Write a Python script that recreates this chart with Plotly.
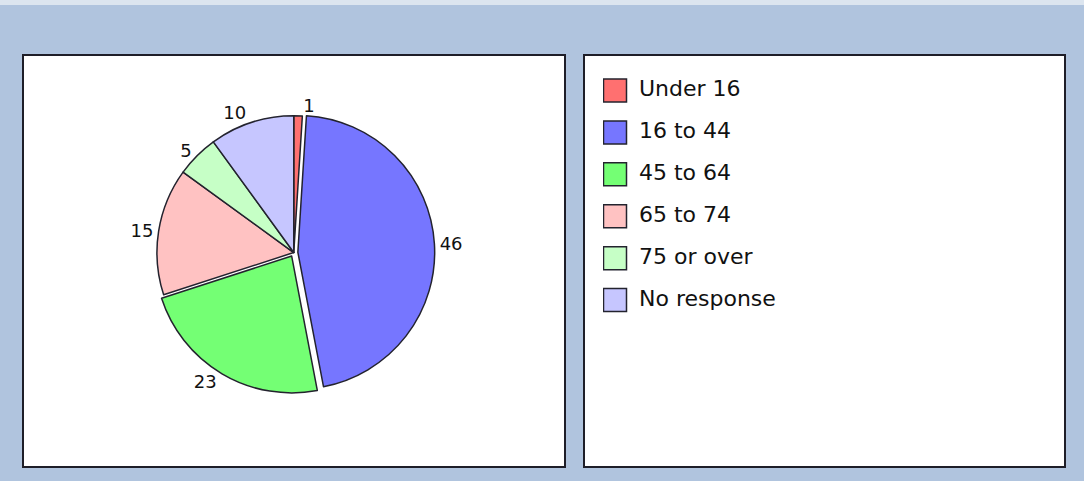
import plotly.graph_objects as go

labels = ["Under 16", "16 to 44", "45 to 64", "65 to 74", "75 or over", "No response"]
values = [1, 46, 23, 15, 5, 10]
colors = ["#FF7070", "#7676FF", "#74FF74", "#FFC2C2", "#C6FFC6", "#C6C6FF"]
explode = [0, 0.03, 0.03, 0, 0, 0]

W, H = 1084, 481
FONT = "DejaVu Sans"
OUTLINE = "#23232E"

def px_x(v):
    return v / W

def px_y(v):
    return 1 - v / H

fig = go.Figure()
fig.add_trace(go.Pie(
    labels=labels, values=values, sort=False, direction="clockwise", rotation=0,
    marker=dict(colors=colors, line=dict(color=OUTLINE, width=1.5)),
    pull=explode,
    textinfo="value", textposition="outside",
    textfont=dict(family=FONT, size=18, color="#111111"),
    domain=dict(x=[0.141, 0.401], y=[0.182, 0.768]),
    showlegend=False, hoverinfo="label+value",
))

# legend panel drawn as a categorical scatter in the right-hand box
idx = list(range(len(labels)))
fig.add_trace(go.Scatter(
    x=[0] * len(labels), y=idx, mode="markers",
    marker=dict(symbol="square", size=23, color=colors, line=dict(color=OUTLINE, width=1.5)),
    hoverinfo="skip", showlegend=False,
))
fig.add_trace(go.Scatter(
    x=[24] * len(labels), y=idx, mode="text", text=labels, textposition="middle right",
    textfont=dict(family=FONT, size=22, color="#111111"),
    hoverinfo="skip", showlegend=False,
))

shapes = [
    dict(type="rect", xref="paper", yref="paper", x0=0, x1=1, y0=px_y(5), y1=1,
         fillcolor="#DCE5EF", line=dict(width=0), layer="below"),
    dict(type="rect", xref="paper", yref="paper", x0=px_x(23), x1=px_x(565), y0=px_y(467), y1=px_y(55),
         fillcolor="white", line=dict(color="#1E1E28", width=2), layer="below"),
    dict(type="rect", xref="paper", yref="paper", x0=px_x(584), x1=px_x(1065), y0=px_y(467), y1=px_y(55),
         fillcolor="white", line=dict(color="#1E1E28", width=2), layer="below"),
]

fig.update_layout(
    width=W, height=H,
    margin=dict(l=0, r=0, t=0, b=0),
    paper_bgcolor="#B0C4DE", plot_bgcolor="rgba(0,0,0,0)",
    xaxis=dict(visible=False, domain=[px_x(603), px_x(1063)], range=[-12, 448], fixedrange=True),
    yaxis=dict(visible=False, domain=[px_y(321), px_y(69.5)], range=[5.5, -0.5], fixedrange=True),
    shapes=shapes,
    showlegend=False,
)

post = (
    "document.body.style.margin='0px';"
    "document.body.style.overflow='hidden';"
    "document.querySelectorAll('path.textline').forEach(function(e){e.style.display='none';});"
)
fig.write_html("out.html", config={"displayModeBar": False}, post_script=post)
